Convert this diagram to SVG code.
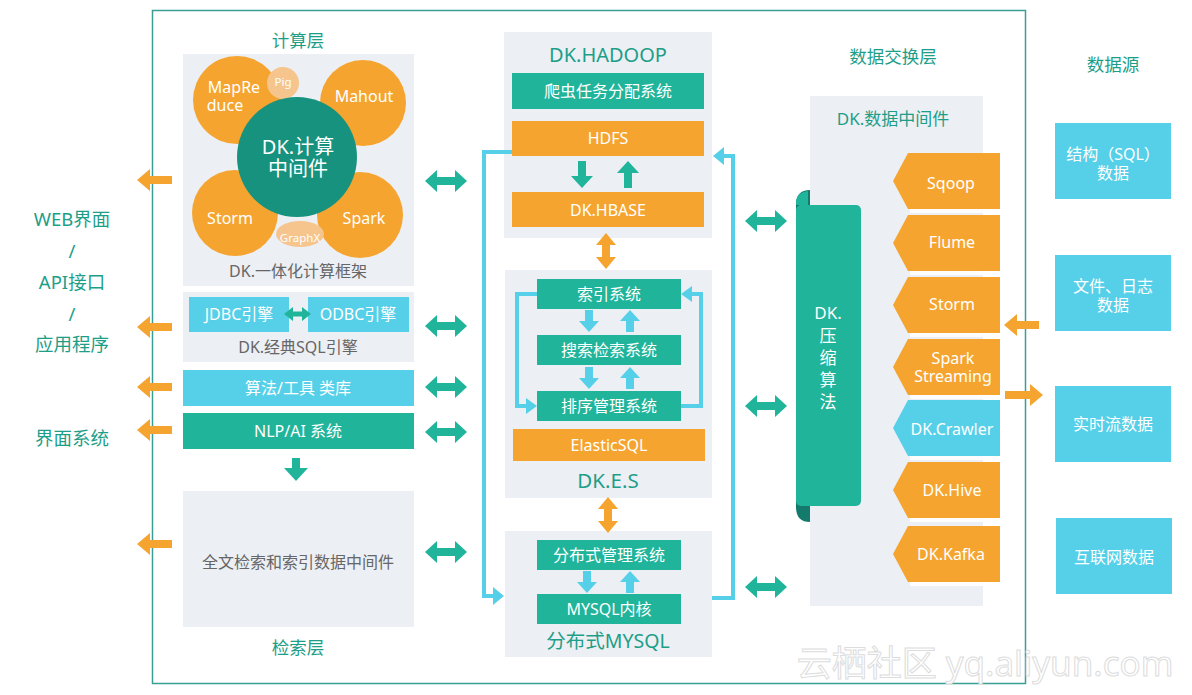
<svg xmlns="http://www.w3.org/2000/svg" xmlns:xlink="http://www.w3.org/1999/xlink" width="1192" height="695" viewBox="0 0 1192 695">
<style>
text{font-family:"Noto Sans","Noto Sans CJK SC",sans-serif;text-anchor:middle;dominant-baseline:central}
.bg{fill:#eceff4}
.teal{fill:#20b49b}
.org{fill:#f5a52f}
.cy{fill:#56d0e8}
.w{fill:#fff;font-size:16px}
.tl{fill:#1d9e88}
.gr{fill:#666;font-size:16px}
.loop{fill:none;stroke:#56d0e8;stroke-width:4}
</style>
<defs>
<path id="oarrL" d="M0,0 L13,-11 L13,-4 L35,-4 L35,4 L13,4 L13,11 Z"/>
<path id="oarrR" d="M0,0 L-13,-11 L-13,-4 L-38,-4 L-38,4 L-13,4 L-13,11 Z"/>
<path id="tdbl" d="M0,0 L12,-11 L12,-4 L30,-4 L30,-11 L42,0 L30,11 L30,4 L12,4 L12,11 Z"/>
<path id="vdbl" d="M0,0 L-10,12 L-4,12 L-4,24 L-10,24 L0,36 L10,24 L4,24 L4,12 L10,12 Z"/>
<path id="dn" d="M-4,0 L4,0 L4,15 L11,15 L0,27 L-11,15 L-4,15 Z"/>
<path id="up" d="M-4,27 L4,27 L4,12 L11,12 L0,0 L-11,12 L-4,12 Z"/>
<path id="dns" d="M-4,0 L4,0 L4,11 L10,11 L0,22 L-10,11 L-4,11 Z"/>
<path id="ups" d="M-4,22 L4,22 L4,11 L10,11 L0,0 L-10,11 L-4,11 Z"/>
<path id="pent" d="M15,0 L107,0 L107,56 L15,56 L0,28 Z"/>
</defs>

<!-- main frame -->
<rect x="152.5" y="10.5" width="873" height="673" fill="none" stroke="#3a9e94" stroke-width="1.5"/>

<!-- layer titles -->
<g id="titles" font-size="17.5">
<text x="298" y="40" class="tl">计算层</text>
<text x="893" y="56" class="tl">数据交换层</text>
<text x="1113" y="64" class="tl">数据源</text>
<text x="298" y="647" class="tl">检索层</text>
</g>

<!-- left labels -->
<g id="left-labels" font-size="18.5">
<text x="72" y="218" class="tl">WEB界面</text>
<text x="72" y="250" class="tl">/</text>
<text x="72" y="281" class="tl">API接口</text>
<text x="72" y="313" class="tl">/</text>
<text x="72" y="343" class="tl">应用程序</text>
<text x="72" y="437" class="tl">界面系统</text>
</g>

<!-- compute framework -->
<g id="compute">
<rect x="183" y="54" width="231" height="232" class="bg"/>
<circle cx="237" cy="100" r="44" class="org"/>
<circle cx="363" cy="103" r="43" class="org"/>
<circle cx="235" cy="213" r="43" class="org"/>
<circle cx="360" cy="215" r="43" class="org"/>
<circle cx="283" cy="83" r="16" fill="#f6c58d"/>
<ellipse cx="300" cy="234" rx="24" ry="13" fill="#f6c58d"/>
<circle cx="297" cy="157" r="60" fill="#17927e"/>
<text class="w"><tspan x="234" y="87">MapRe</tspan><tspan x="225" y="105">duce</tspan></text>
<text x="283" y="81" fill="#fff" font-size="11.5">Pig</text>
<text x="364" y="96" class="w">Mahout</text>
<text x="230" y="218" class="w">Storm</text>
<text x="364" y="218" class="w">Spark</text>
<text x="300" y="237" fill="#fff" font-size="11.5">GraphX</text>
<text fill="#fff" font-size="20"><tspan x="298" y="146">DK.计算</tspan><tspan x="298" y="168">中间件</tspan></text>
<text x="298" y="271" class="gr">DK.一体化计算框架</text>
</g>

<!-- SQL engine -->
<g id="sql-engine">
<rect x="183" y="292" width="231" height="70" class="bg"/>
<rect x="189" y="297" width="100" height="35" class="cy"/>
<rect x="308" y="297" width="101" height="35" class="cy"/>
<text x="239" y="314" class="w">JDBC引擎</text>
<text x="358" y="314" class="w">ODBC引擎</text>
<path d="M284,314 L293,307 L293,311.5 L302,311.5 L302,307 L311,314 L302,321 L302,316.5 L293,316.5 L293,321 Z" class="teal"/>
<text x="298" y="347" class="gr">DK.经典SQL引擎</text>
</g>

<g id="algo-lib">
<rect x="183" y="370" width="231" height="36" class="cy"/>
<text x="298" y="388" class="w">算法/工具 类库</text>
</g>

<g id="nlp">
<rect x="183" y="413" width="231" height="36" class="teal"/>
<text x="298" y="431" class="w">NLP/AI  系统</text>
</g>

<g id="fulltext">
<rect x="183" y="491" width="231" height="136" class="bg"/>
<text x="298" y="562" class="gr">全文检索和索引数据中间件</text>
</g>

<!-- HADOOP -->
<g id="hadoop">
<rect x="504" y="32" width="208" height="206" class="bg"/>
<text x="608" y="54" class="tl" font-size="20">DK.HADOOP</text>
<rect x="512" y="73" width="192" height="36" class="teal"/>
<text x="608" y="91" class="w">爬虫任务分配系统</text>
<rect x="512" y="121" width="192" height="35" class="org"/>
<text x="608" y="138" class="w">HDFS</text>
<rect x="512" y="192" width="192" height="35" class="org"/>
<text x="608" y="210" class="w">DK.HBASE</text>
<use xlink:href="#dn" x="582" y="161" class="teal"/>
<use xlink:href="#up" x="628" y="161" class="teal"/>
</g>

<!-- ES -->
<g id="es">
<rect x="505" y="270" width="207" height="228" class="bg"/>
<rect x="537" y="279" width="144" height="30" class="teal"/>
<text x="609" y="294" class="w">索引系统</text>
<rect x="537" y="335" width="144" height="30" class="teal"/>
<text x="609" y="350" class="w">搜索检索系统</text>
<rect x="537" y="391" width="144" height="30" class="teal"/>
<text x="609" y="406" class="w">排序管理系统</text>
<use xlink:href="#dns" x="589" y="310" class="cy"/>
<use xlink:href="#ups" x="630" y="310" class="cy"/>
<use xlink:href="#dns" x="589" y="367" class="cy"/>
<use xlink:href="#ups" x="630" y="367" class="cy"/>
<path d="M537,294 L517,294 L517,406 L528,406" class="loop"/>
<path d="M526,398 L537,406 L526,414 Z" class="cy"/>
<path d="M681,406 L701,406 L701,294 L690,294" class="loop"/>
<path d="M692,286 L681,294 L692,302 Z" class="cy"/>
<rect x="513" y="429" width="192" height="32" class="org"/>
<text x="609" y="445" class="w">ElasticSQL</text>
<text x="608" y="480" class="tl" font-size="20.5">DK.E.S</text>
</g>

<!-- MySQL -->
<g id="mysql">
<rect x="505" y="531" width="207" height="126" class="bg"/>
<rect x="537" y="540" width="144" height="30" class="teal"/>
<text x="609" y="555" class="w">分布式管理系统</text>
<rect x="537" y="594" width="144" height="30" class="teal"/>
<text x="609" y="609" class="w">MYSQL内核</text>
<use xlink:href="#dns" x="587" y="571" class="cy"/>
<use xlink:href="#ups" x="630" y="571" class="cy"/>
<text x="608" y="640" class="tl" font-size="19.5">分布式MYSQL</text>
</g>

<!-- data middleware -->
<g id="data-middleware">
<rect x="810" y="96" width="173" height="510" class="bg"/>
<text x="893" y="118" class="tl" font-size="17">DK.数据中间件</text>
</g>

<g id="sources">
<g fill="#fff" opacity="0.9">
<rect x="910" y="157" width="93" height="56"/>
<rect x="910" y="219" width="93" height="56"/>
<rect x="910" y="281" width="93" height="56"/>
<rect x="910" y="343" width="93" height="56"/>
<rect x="910" y="404" width="93" height="56"/>
<rect x="910" y="466" width="93" height="56"/>
<rect x="910" y="530" width="93" height="56"/>
</g>
<use xlink:href="#pent" x="893" y="153" class="org"/>
<use xlink:href="#pent" x="893" y="215" class="org"/>
<use xlink:href="#pent" x="893" y="277" class="org"/>
<use xlink:href="#pent" x="893" y="339" class="org"/>
<use xlink:href="#pent" x="893" y="400" class="cy"/>
<use xlink:href="#pent" x="893" y="462" class="org"/>
<use xlink:href="#pent" x="893" y="526" class="org"/>
<text x="951" y="183" class="w">Sqoop</text>
<text x="952" y="242" class="w">Flume</text>
<text x="952" y="304" class="w">Storm</text>
<text class="w"><tspan x="953" y="358">Spark</tspan><tspan x="953" y="376">Streaming</tspan></text>
<text x="952" y="429" class="w">DK.Crawler</text>
<text x="952" y="490" class="w">DK.Hive</text>
<text x="951" y="554" class="w">DK.Kafka</text>
</g>

<g id="compress">
<path d="M796,205 Q796,190 810,190 L810,522 Q796,522 796,507 Z" fill="#137a6c"/>
<rect x="796" y="205" width="65" height="301" rx="5" class="teal"/>
<path d="M796,200 Q798,192 808,191 L808,205 L796,205 Z" class="teal"/>
<text fill="#fff" font-size="17"><tspan x="828" y="312">DK.</tspan><tspan x="828" y="335">压</tspan><tspan x="828" y="357">缩</tspan><tspan x="828" y="379">算</tspan><tspan x="828" y="401">法</tspan></text>
</g>

<!-- data source boxes -->
<g id="ds-sql">
<rect x="1055" y="123" width="116" height="76" class="cy"/>
<text class="w"><tspan x="1113" y="154">结构（SQL）</tspan><tspan x="1113" y="173">数据</tspan></text>
</g>
<g id="ds-file">
<rect x="1055" y="255" width="116" height="76" class="cy"/>
<text class="w"><tspan x="1113" y="286">文件、日志</tspan><tspan x="1113" y="305">数据</tspan></text>
</g>
<g id="ds-stream">
<rect x="1055" y="386" width="116" height="76" class="cy"/>
<text x="1113" y="424" class="w">实时流数据</text>
</g>
<g id="ds-web">
<rect x="1056" y="518" width="116" height="76" class="cy"/>
<text x="1114" y="557" class="w">互联网数据</text>
</g>

<!-- connectors -->
<g id="connectors">
<g class="org">
<use xlink:href="#oarrL" x="137" y="180"/>
<use xlink:href="#oarrL" x="137" y="327"/>
<use xlink:href="#oarrL" x="137" y="387"/>
<use xlink:href="#oarrL" x="137" y="430"/>
<use xlink:href="#oarrL" x="137" y="544"/>
<use xlink:href="#oarrL" x="1004" y="325"/>
<use xlink:href="#oarrR" x="1043" y="395"/>
<use xlink:href="#vdbl" x="606" y="233"/>
<use xlink:href="#vdbl" x="608" y="497"/>
</g>
<g class="teal">
<use xlink:href="#tdbl" x="425" y="181"/>
<use xlink:href="#tdbl" x="425" y="326"/>
<use xlink:href="#tdbl" x="425" y="387"/>
<use xlink:href="#tdbl" x="425" y="432"/>
<use xlink:href="#tdbl" x="425" y="552"/>
<use xlink:href="#tdbl" x="745" y="221"/>
<use xlink:href="#tdbl" x="745" y="406"/>
<use xlink:href="#tdbl" x="745" y="587"/>
<path d="M292,458 L300,458 L300,468 L308,468 L296,481 L284,468 L292,468 Z"/>
</g>
<path d="M512,152 L484,152 L484,596 L494,596" class="loop"/>
<path d="M493,587 L504,596 L493,605 Z" class="cy"/>
<path d="M712,598 L733,598 L733,156 L722,156" class="loop"/>
<path d="M724,147 L713,156 L724,165 Z" class="cy"/>
</g>

<text x="985" y="662" font-size="35" fill="#fff" stroke="#dcdcdc" stroke-width="1">云栖社区 yq.aliyun.com</text>
</svg>
